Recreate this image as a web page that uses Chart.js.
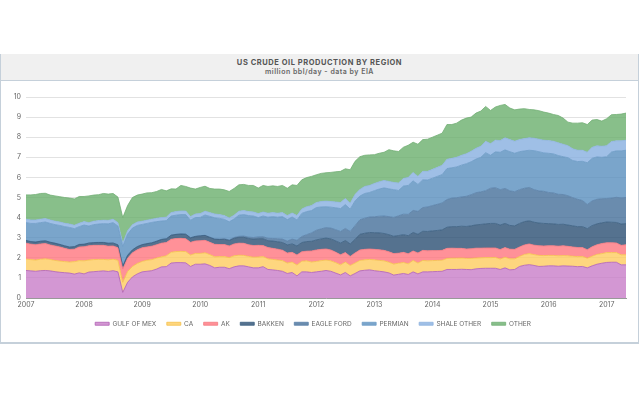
<!DOCTYPE html>
<html>
<head>
<meta charset="utf-8">
<title>US crude oil production by region</title>
<script src="https://cdn.jsdelivr.net/npm/chart.js@4"></script>
<style>
body { margin: 0; background: #fff; }
#card { position: absolute; left: 0; top: 54px; width: 637px; height: 288px; border: 1px solid #c5d0da; border-top: 0; border-width: 0 1px 2px 1px; }
#head { height: 26px; background: #f0f0f0; border-bottom: 1px solid #c5d0da; text-align: center; font-family: Inter, "Open Sans", sans-serif; color: #555; }
#title { font-size: 7.5px; font-weight: 700; letter-spacing: .55px; padding-top: 4px; line-height: 9px; }
#sub { font-size: 7px; font-weight: 600; letter-spacing: .5px; line-height: 9px; color: #666; }
canvas { position: absolute; left: 0; top: 0; }
</style>
</head>
<body>
<div id="card"><div id="head">
<div id="title">US CRUDE OIL PRODUCTION BY REGION</div>
<div id="sub">million bbl/day - data by EIA</div>
</div></div>
<canvas id="chart" width="640" height="400"></canvas>
<script>
const years = ['2007','2008','2009','2010','2011','2012','2013','2014','2015','2016','2017'];
const yTicks = [0,1,2,3,4,5,6,7,8,9,10];
const names = ['GULF OF MEX','CA','AK','BAKKEN','EAGLE FORD','PERMIAN','SHALE OTHER','OTHER'];

// monthly, one line per year, jan 2007 to may 2017
const gulf = [
  1.37,1.35,1.33,1.36,1.37,1.35,1.31,1.28,1.26,1.24,1.19,1.25,
  1.20,1.29,1.31,1.33,1.35,1.32,1.36,1.30,0.28,0.78,1.05,1.20,
  1.30,1.33,1.36,1.44,1.55,1.56,1.74,1.76,1.76,1.75,1.57,1.68,
  1.68,1.70,1.62,1.50,1.53,1.53,1.46,1.55,1.60,1.60,1.55,1.50,
  1.50,1.56,1.42,1.40,1.37,1.33,1.22,1.27,1.10,1.30,1.30,1.27,
  1.30,1.33,1.37,1.33,1.24,1.15,1.27,1.10,1.22,1.35,1.38,1.40,
  1.36,1.33,1.30,1.25,1.14,1.18,1.22,1.17,1.30,1.20,1.30,1.30,
  1.31,1.32,1.33,1.42,1.42,1.42,1.43,1.42,1.41,1.45,1.47,1.48,
  1.48,1.48,1.42,1.50,1.40,1.42,1.57,1.63,1.66,1.62,1.57,1.58,
  1.60,1.60,1.58,1.60,1.59,1.58,1.56,1.57,1.50,1.60,1.68,1.73,
  1.77,1.78,1.78,1.65,1.65];
const ca = [
  .57,.56,.56,.57,.58,.57,.56,.56,.55,.55,.62,.61,
  .65,.60,.60,.59,.57,.58,.57,.58,.50,.54,.52,.52,
  .52,.55,.55,.55,.50,.54,.54,.55,.56,.56,.57,.54,
  .54,.55,.54,.55,.53,.53,.55,.55,.53,.52,.52,.53,
  .54,.50,.53,.52,.52,.53,.52,.52,.54,.53,.55,.52,
  .52,.53,.52,.52,.52,.50,.52,.52,.52,.52,.52,.52,
  .54,.54,.55,.53,.55,.55,.55,.53,.57,.54,.57,.55,
  .55,.55,.55,.55,.56,.56,.56,.55,.56,.54,.53,.53,
  .53,.54,.52,.53,.55,.53,.50,.54,.55,.54,.55,.53,
  .52,.52,.52,.51,.51,.50,.50,.50,.48,.48,.49,.48,
  .49,.48,.48,.50,.50];
const ak = [
  .79,.77,.76,.76,.76,.72,.72,.70,.66,.62,.62,.68,
  .70,.71,.71,.70,.70,.68,.66,.62,.66,.66,.68,.68,
  .68,.66,.67,.66,.68,.66,.64,.65,.65,.64,.63,.62,
  .63,.62,.61,.62,.60,.60,.58,.59,.60,.60,.58,.58,
  .58,.55,.56,.55,.54,.52,.50,.48,.50,.47,.48,.55,
  .57,.56,.55,.54,.52,.50,.47,.45,.50,.52,.52,.52,
  .52,.53,.52,.52,.52,.50,.50,.50,.47,.50,.50,.50,
  .50,.49,.49,.50,.50,.49,.48,.47,.48,.49,.48,.48,
  .48,.47,.47,.48,.48,.47,.47,.47,.48,.47,.48,.48,
  .48,.48,.48,.49,.47,.46,.45,.44,.42,.47,.48,.50,
  .49,.49,.48,.47,.50];
const bakken = [
  .13,.12,.13,.13,.13,.13,.13,.12,.12,.12,.12,.12,
  .12,.13,.13,.14,.14,.14,.14,.14,.14,.14,.14,.15,
  .15,.16,.16,.17,.18,.18,.20,.20,.21,.22,.22,.22,
  .24,.24,.24,.25,.25,.26,.27,.28,.29,.30,.31,.32,
  .33,.34,.34,.36,.37,.38,.40,.42,.45,.46,.48,.48,
  .50,.52,.54,.55,.56,.58,.60,.62,.68,.78,.80,.82,
  .83,.84,.84,.85,.86,.88,.88,.90,.92,.93,.95,.96,
  .98,1.00,1.02,1.05,1.07,1.08,1.10,1.12,1.14,1.16,1.18,1.20,
  1.22,1.22,1.22,1.20,1.18,1.17,1.17,1.16,1.15,1.14,1.13,1.12,
  1.10,1.09,1.08,1.07,1.06,1.05,1.04,1.04,1.05,1.05,1.04,1.03,
  1.03,1.02,1.02,1.06,1.05];
const eagleFord = [
  .01,.01,.01,.01,.01,.01,.01,.01,.01,.01,.01,.01,
  .01,.01,.01,.01,.01,.01,.01,.01,.01,.01,.01,.01,
  .01,.01,.01,.01,.01,.01,.01,.01,.01,.01,.01,.01,
  .01,.01,.02,.02,.02,.03,.03,.04,.05,.06,.07,.08,
  .09,.10,.12,.13,.15,.17,.19,.24,.28,.30,.34,.42,
  .48,.50,.52,.54,.56,.58,.60,.62,.68,.72,.75,.77,
  .79,.83,.87,.90,.94,.98,1.02,1.06,1.10,1.14,1.18,1.22,
  1.26,1.30,1.34,1.38,1.42,1.44,1.46,1.50,1.55,1.60,1.62,1.65,
  1.75,1.78,1.76,1.74,1.72,1.70,1.68,1.66,1.66,1.62,1.60,1.60,
  1.55,1.54,1.50,1.48,1.46,1.40,1.36,1.30,1.20,1.23,1.22,1.20,
  1.17,1.20,1.25,1.30,1.30];
const permian = [
  .88,.90,.92,.92,.93,.93,.92,.94,.95,.97,.89,.88,
  .95,.84,.89,.91,.93,.96,1.01,.93,.98,1.05,1.08,1.05,
  1.00,1.00,1.01,.97,.91,.90,.95,.95,.96,.97,.87,.93,
  .91,1.01,1.03,1.05,1.03,.96,.90,.92,1.05,1.07,1.07,1.07,
  .96,1.03,1.05,1.09,1.07,1.12,1.07,1.10,1.01,1.15,1.15,1.11,
  1.13,1.09,1.04,1.04,1.09,1.14,1.19,1.11,1.23,1.18,1.23,1.22,
  1.30,1.35,1.40,1.38,1.38,1.26,1.40,1.44,1.47,1.34,1.38,1.34,
  1.36,1.39,1.41,1.54,1.51,1.53,1.58,1.62,1.64,1.67,1.72,1.89,
  1.64,1.78,1.86,1.92,1.95,1.91,1.89,1.86,1.85,1.94,1.95,1.91,
  1.95,1.94,1.93,1.88,1.89,1.85,1.88,1.95,2.08,2.12,2.11,2.06,
  2.08,2.29,2.31,2.34,2.35];
const shaleOther = [
  .17,.17,.17,.17,.17,.17,.17,.17,.17,.17,.17,.17,
  .17,.17,.17,.17,.17,.17,.17,.17,.15,.17,.17,.17,
  .16,.16,.16,.17,.17,.17,.17,.18,.18,.18,.18,.18,
  .19,.19,.19,.19,.19,.19,.19,.19,.20,.20,.20,.20,
  .20,.20,.20,.20,.20,.20,.20,.20,.22,.22,.24,.25,
  .25,.27,.28,.28,.29,.30,.30,.30,.32,.33,.35,.35,
  .36,.36,.37,.37,.36,.37,.38,.40,.42,.40,.42,.43,
  .44,.45,.46,.46,.47,.48,.49,.50,.52,.54,.55,.57,
  .58,.58,.58,.60,.60,.60,.60,.61,.62,.62,.62,.63,
  .63,.63,.63,.62,.60,.58,.56,.55,.52,.55,.55,.55,
  .55,.52,.50,.50,.50];
const other = [
  1.21,1.25,1.27,1.28,1.26,1.24,1.26,1.26,1.28,1.29,1.31,1.33,
  1.25,1.33,1.30,1.29,1.33,1.31,1.28,1.27,1.28,1.25,1.35,1.34,
  1.35,1.36,1.32,1.33,1.40,1.31,1.18,1.12,1.27,1.22,1.42,1.24,
  1.30,1.24,1.20,1.24,1.27,1.28,1.32,1.33,1.31,1.30,1.30,1.32,
  1.27,1.32,1.33,1.33,1.33,1.35,1.36,1.40,1.50,1.45,1.45,1.45,
  1.38,1.40,1.41,1.45,1.50,1.55,1.48,1.66,1.65,1.63,1.55,1.52,
  1.43,1.42,1.40,1.58,1.57,1.57,1.55,1.60,1.50,1.60,1.58,1.60,
  1.60,1.60,1.60,1.73,1.68,1.70,1.75,1.77,1.70,1.75,1.75,1.73,
  1.65,1.65,1.75,1.66,1.57,1.56,1.52,1.49,1.41,1.41,1.42,1.40,
  1.37,1.33,1.36,1.30,1.17,1.28,1.35,1.37,1.38,1.35,1.31,1.25,
  1.34,1.34,1.31,1.33,1.35];

const fills = ['rgba(200,125,200,.8)','rgba(254,204,95,.8)','rgba(255,118,126,.8)','rgba(42,79,115,.8)','rgba(69,111,154,.8)','rgba(89,142,190,.8)','rgba(135,175,224,.8)','rgba(106,175,109,.8)'];
const lines = ['#b060b4','#f5c04a','#f47a82','#3b5f82','#5a82aa','#6d9cc6','#8fb4e0','#72ae75'];

const labels = [];
years.forEach(y => {
  for (let m = 0; m < 12; m++) labels.push(m === 0 ? y : '');
});
labels.length = gulf.length;

const series = [gulf, ca, ak, bakken, eagleFord, permian, shaleOther, other];

new Chart(document.getElementById('chart').getContext('2d'), {
  type: 'line',
  data: {
    labels: labels,
    datasets: series.map((values, i) => ({
      label: names[i],
      data: values,
      backgroundColor: fills[i],
      borderColor: lines[i],
      borderWidth: 0.8,
      pointRadius: 0,
      fill: i === 0 ? 'origin' : '-1'
    }))
  },
  options: {
    responsive: false,
    animation: false,
    layout: { padding: { top: 97, right: 14, bottom: 63, left: 0 } },
    plugins: {
      tooltip: { enabled: false },
      legend: {
        position: 'bottom',
        labels: { boxWidth: 14, boxHeight: 3, padding: 10.5, font: { size: 6.5, family: 'Inter' }, color: '#666' }
      }
    },
    scales: {
      x: {
        stacked: true,
        offset: false,
        afterFit: s => { s.height = 12; },
        grid: { display: false, tickLength: 0 },
        border: { color: '#999' },
        ticks: {
          autoSkip: false, maxRotation: 0, padding: 3,
          font: { size: 7, family: 'Inter' }, color: '#666',
          callback: (v, i) => labels[i]
        }
      },
      y: {
        stacked: true,
        min: 0, max: 10,
        afterFit: s => { s.width = 26; },
        afterBuildTicks: s => { s.ticks = yTicks.map(v => ({ value: v })); },
        grid: { color: '#e2e2e2', drawTicks: false },
        border: { display: false },
        ticks: { padding: 5, font: { size: 7, family: 'Inter' }, color: '#666' }
      }
    }
  }
});
</script>
</body>
</html>
